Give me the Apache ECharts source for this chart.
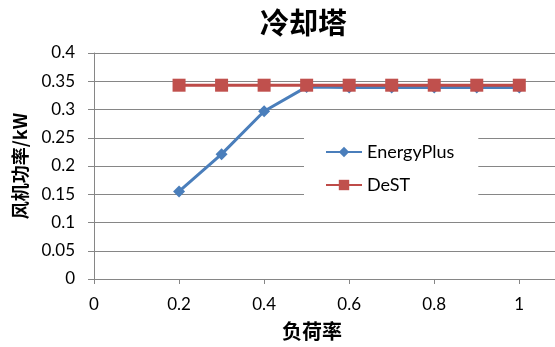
<!DOCTYPE html>
<html>
<head>
<meta charset="utf-8">
<script src="https://cdn.jsdelivr.net/npm/echarts@6/dist/echarts.min.js"></script>
<style>
html,body{margin:0;padding:0;background:#fff;}
#chart{width:555px;height:347px;}
</style>
</head>
<body>
<div id="chart"></div>
<script>
const titleText = '冷却塔';
const xAxisName = '负荷率';
const yAxisName = '风机功率/kW';
const loadRates = [0.2, 0.3, 0.4, 0.5, 0.6, 0.7, 0.8, 0.9, 1.0];
const energyPlus = [0.155, 0.221, 0.297, 0.340, 0.339, 0.339, 0.339, 0.339, 0.339];
const dest = [0.343, 0.343, 0.343, 0.343, 0.343, 0.343, 0.343, 0.343, 0.343];
const seriesNames = ['EnergyPlus', 'DeST'];

const pair = (xs, ys) => xs.map((x, i) => [x, ys[i]]);
const labelFont = 'Lato, "Noto Sans", sans-serif';
const cjkFont = '"Noto Sans CJK SC", sans-serif';

const chart = echarts.init(document.getElementById('chart'), null, {renderer: 'canvas'});
chart.setOption({
  animation: false,
  backgroundColor: '#ffffff',
  title: {
    text: titleText,
    left: 260,
    top: 8,
    padding: 0,
    textStyle: {fontFamily: cjkFont, fontSize: 29, fontWeight: 'bold', color: '#000'}
  },
  legend: {
    orient: 'vertical',
    left: 304,
    top: 120,
    backgroundColor: '#ffffff',
    padding: [23, 24, 14, 21],
    itemWidth: 36,
    itemHeight: 13,
    itemGap: 15,
    data: seriesNames,
    textStyle: {fontFamily: labelFont, fontSize: 18, color: '#000'}
  },
  grid: {show: false, borderWidth: 0, left: 94, right: -3, top: 53, bottom: 68, containLabel: false, outerBoundsMode: 'none'},
  xAxis: {
    type: 'value',
    min: 0,
    max: 1.091,
    interval: 0.2,
    name: xAxisName,
    nameLocation: 'middle',
    nameGap: 42,
    nameTextStyle: {fontFamily: cjkFont, fontSize: 20, fontWeight: 'bold', color: '#000', padding: [0, 28, 0, 0]},
    axisLine: {show: true, lineStyle: {color: '#868686', width: 1}},
    axisTick: {show: true, inside: false, length: 5, lineStyle: {color: '#868686'}},
    axisLabel: {margin: 17, fontFamily: labelFont, fontSize: 17, color: '#000', showMaxLabel: false},
    splitLine: {show: false},
    minorSplitLine: {show: false},
    splitArea: {show: false}
  },
  yAxis: {
    type: 'value',
    min: 0,
    max: 0.4,
    interval: 0.05,
    name: yAxisName,
    nameLocation: 'middle',
    nameGap: 65,
    nameTextStyle: {fontFamily: cjkFont, fontSize: 18, fontWeight: 'bold', color: '#000'},
    axisLine: {show: true, lineStyle: {color: '#868686', width: 1}},
    axisTick: {show: true, inside: false, length: 6, lineStyle: {color: '#868686'}},
    axisLabel: {margin: 19, fontFamily: labelFont, fontSize: 17, color: '#000'},
    splitLine: {show: true, lineStyle: {color: '#868686', width: 1}}
  },
  series: [
    {
      name: seriesNames[0],
      type: 'line',
      data: pair(loadRates, energyPlus),
      symbol: 'diamond',
      symbolSize: 12,
      lineStyle: {color: '#4A7EBB', width: 3},
      itemStyle: {color: '#4A7EBB'},
      z: 2
    },
    {
      name: seriesNames[1],
      type: 'line',
      data: pair(loadRates, dest),
      symbol: 'rect',
      symbolSize: 13,
      lineStyle: {color: '#BE4B48', width: 3},
      itemStyle: {color: '#C0504D'},
      z: 3
    }
  ]
});
</script>
</body>
</html>
